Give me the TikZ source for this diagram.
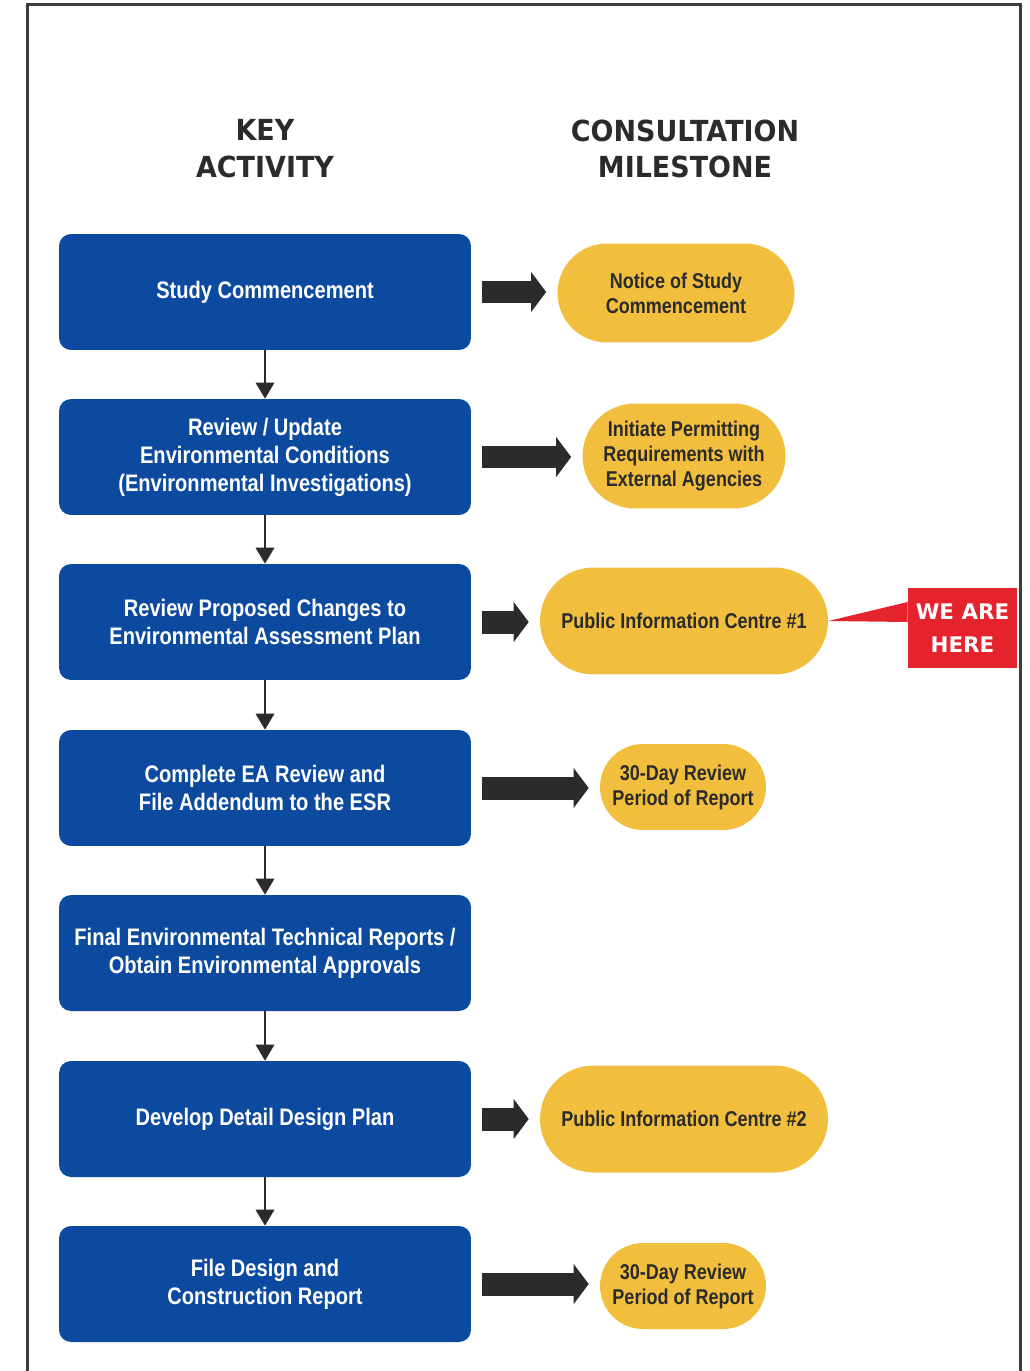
\documentclass[tikz,border=0pt]{standalone}
\usepackage{fontspec}
\setmainfont{Liberation Sans}[FakeStretch=0.84]
\newfontfamily\headfont{DejaVu Sans}[FakeStretch=0.93]
\newfontfamily\calloutfont{DejaVu Sans}
\usetikzlibrary{arrows.meta,positioning,shapes.misc}
\definecolor{actblue}{RGB}{12,74,160}
\definecolor{mileyellow}{RGB}{241,190,62}
\definecolor{arrowgray}{RGB}{43,43,43}
\definecolor{framegray}{RGB}{60,60,60}
\definecolor{herered}{RGB}{228,35,45}

\begin{document}
\begin{tikzpicture}[x=0.02cm, y=-0.02cm,
    act/.style={rectangle, rounded corners=0.24cm, fill=actblue, minimum width=8.24cm, minimum height=2.32cm, align=center, text=white, font=\fontsize{13.6}{15.9}\selectfont\bfseries},
    mile/.style={rounded rectangle, fill=mileyellow, inner sep=0pt, align=center, text=arrowgray, font=\fontsize{12.2}{14.2}\selectfont\bfseries},
    head/.style={align=center, text=arrowgray, font=\headfont\fontsize{16.5}{21}\selectfont\bfseries},
    down/.style={draw=arrowgray, line width=0.05cm, -{Triangle[length=0.32cm, width=0.38cm, line width=0pt]}},
    push/.style={draw=arrowgray, line width=0.46cm, -{Triangle[length=0.3cm, width=0.8cm, line width=0pt]}, shorten <=0.22cm, shorten >=0.22cm}
]
    \useasboundingbox (0,0) rectangle (1029,1371);

    % Frame, open at the bottom
    \draw[line width=0.06cm, framegray] (27,1371) -- (27,5) -- (1020,5) -- (1020,1371);

    % Column headings
    \node[head] (hact) at (265,149) {KEY\\ACTIVITY};
    \node[head] (hmile) at (685,149) {CONSULTATION\\MILESTONE};

    % Key activities
    \node[act] (b1) at (265,292) {Study Commencement};
    \node[act] (b2) at (265,457) {Review / Update\\Environmental Conditions\\(Environmental Investigations)};
    \node[act] (b3) at (265,622) {Review Proposed Changes to\\Environmental Assessment Plan};
    \node[act] (b4) at (265,788) {Complete EA Review and\\File Addendum to the ESR};
    \node[act] (b5) at (265,953) {Final Environmental Technical Reports /\\Obtain Environmental Approvals};
    \node[act] (b6) at (265,1119) {Develop Detail Design Plan};
    \node[act] (b7) at (265,1284) {File Design and\\Construction Report};

    % Consultation milestones
    \node[mile, minimum width=4.74cm, minimum height=1.98cm] (m1) at (676,293) {Notice of Study\\Commencement};
    \node[mile, minimum width=4.06cm, minimum height=2.1cm] (m2) at (684,456) {Initiate Permitting\\Requirements with\\External Agencies};
    \node[mile, minimum width=5.76cm, minimum height=2.14cm] (m3) at (684,621) {Public Information Centre \#1};
    \node[mile, minimum width=3.32cm, minimum height=1.72cm] (m4) at (683,787) {30-Day Review\\Period of Report};
    \node[mile, minimum width=5.76cm, minimum height=2.14cm] (m6) at (684,1119) {Public Information Centre \#2};
    \node[mile, minimum width=3.32cm, minimum height=1.72cm] (m7) at (683,1286) {30-Day Review\\Period of Report};

    % Flow down the activities
    \foreach \a/\b in {b1/b2, b2/b3, b3/b4, b4/b5, b5/b6, b6/b7}
        \draw[down] (\a.south) -- (\b.north);

    % Activity to milestone
    \foreach \a/\b in {b1/m1, b2/m2, b3/m3, b4/m4, b6/m6, b7/m7}
        \draw[push] (\a.east) -- (\a.east -| \b.west);

    % We are here callout
    \node[rectangle, fill=herered, minimum width=2.18cm, minimum height=1.6cm, align=center, text=white, font=\calloutfont\fontsize{12.2}{18.7}\selectfont\bfseries] (we) at (962.5,628) {WE ARE\\HERE};
    \fill[herered] (m3.east) -- ([yshift=0.52cm]we.west) -- ([yshift=0.12cm]we.west) -- cycle;
\end{tikzpicture}
\end{document}
